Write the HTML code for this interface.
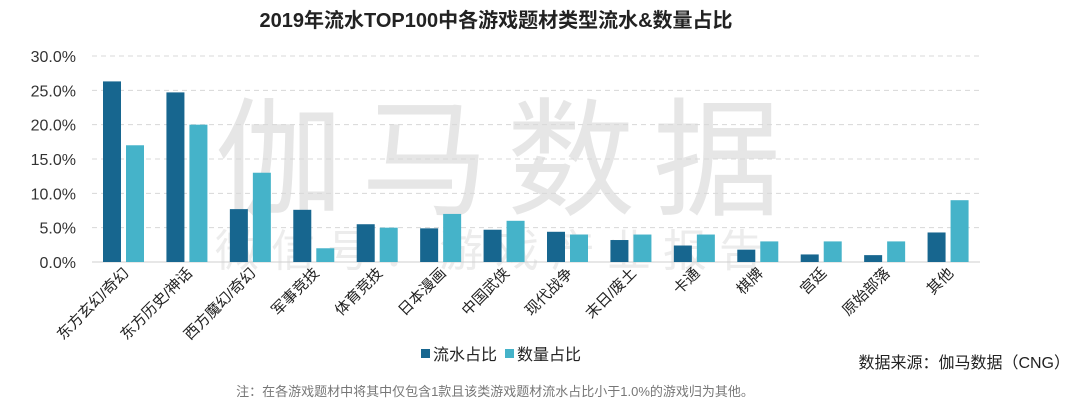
<!DOCTYPE html>
<html><head><meta charset="utf-8"><style>
body{margin:0;background:#fff;width:1080px;height:414px;overflow:hidden}
svg text{font-family:"Liberation Sans","Noto Sans CJK SC",sans-serif}
</style></head><body>
<svg width="1080" height="414">
<text x="496" y="27" text-anchor="middle" font-size="20" font-weight="bold" fill="#222">2019年流水TOP100中各游戏题材类型流水&amp;数量占比</text>
<g fill="#e4e4e4">
<text x="215" y="205" font-size="128" letter-spacing="18" fill="#e6e6e6">伽马数据</text>
<text x="215" y="266" font-size="44" letter-spacing="12" fill="#ececec">微信号：游戏产业报告</text>
</g>
<g id="grid"></g><g id="bars"></g><g id="xl"></g>
<g>
<rect x="421" y="349" width="9" height="9" fill="#17668f"/>
<text x="433" y="360" font-size="16" fill="#222">流水占比</text>
<rect x="505" y="349" width="9" height="9" fill="#45b3c9"/>
<text x="517" y="360" font-size="16" fill="#222">数量占比</text>
</g>
<text x="1070" y="368" text-anchor="end" font-size="16" fill="#222">数据来源：伽马数据（CNG）</text>
<text x="495" y="396" text-anchor="middle" font-size="13" fill="#777">注：在各游戏题材中将其中仅包含1款且该类游戏题材流水占比小于1.0%的游戏归为其他。</text>
</svg>
<script>
const categories=["东方玄幻/奇幻","东方历史/神话","西方魔幻/奇幻","军事竞技","体育竞技","日本漫画","中国武侠","现代战争","末日/废土","卡通","棋牌","宫廷","原始部落","其他"];
const revenueShare=[26.3,24.7,7.7,7.6,5.5,4.9,4.7,4.4,3.2,2.4,1.8,1.1,1.0,4.3];
const countShare=[17,20,13,2,5,7,6,4,4,4,3,3,3,9];
const yTicks=[0,5,10,15,20,25,30];
const NS="http://www.w3.org/2000/svg";
const x0=92,x1=980,y0=262,yTop=56,yMax=30;
const step=(x1-x0)/categories.length;
const y=v=>y0-(v/yMax)*(y0-yTop);
function mk(t,a,p){const e=document.createElementNS(NS,t);for(const k in a)e.setAttribute(k,a[k]);p.appendChild(e);return e;}
const grid=document.getElementById('grid'),bars=document.getElementById('bars'),xl=document.getElementById('xl');
yTicks.forEach(v=>{
 const l=mk('line',{x1:x0,x2:x1,y1:y(v),y2:y(v),stroke:v?'#d8d8d8':'#cfcfcf','stroke-dasharray':v?'5,4':'none'},grid);
 
 
 const t=mk('text',{x:76,y:y(v)+6,'text-anchor':'end','font-size':16,fill:'#333'},grid);
 t.textContent=v.toFixed(1)+'%';
 
 
});
categories.forEach((c,i)=>{
 const gx=x0+i*step;
 const b1=mk('rect',{x:gx+11,y:y(revenueShare[i]),width:18,height:y0-y(revenueShare[i]),fill:'#17668f'},bars);
 
 
 const b2=mk('rect',{x:gx+34,y:y(countShare[i]),width:18,height:y0-y(countShare[i]),fill:'#45b3c9'},bars);
 
 
 const cx=gx+step/2+6,cy=274;
 const t=mk('text',{x:cx,y:cy,'text-anchor':'end','font-size':15,fill:'#222',transform:`rotate(-45 ${cx} ${cy})`},xl);
 t.textContent=c;
 
 
});
</script>
</body></html>
